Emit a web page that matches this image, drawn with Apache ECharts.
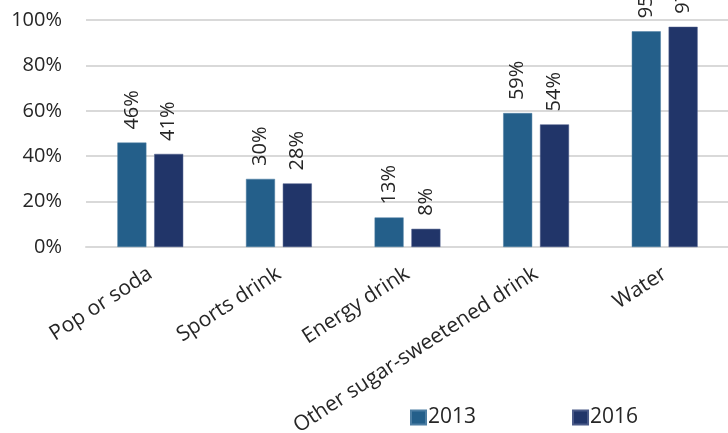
<!DOCTYPE html>
<html>
<head>
<meta charset="utf-8">
<script src="https://cdn.jsdelivr.net/npm/echarts@6/dist/echarts.min.js"></script>
<style>html,body{margin:0;padding:0;background:#fff;}#c{width:728px;height:433px;}</style>
</head>
<body>
<div id="c"></div>
<script>
const categories = ['Pop or soda', 'Sports drink', 'Energy drink', 'Other sugar-sweetened drink', 'Water'];
const values2013 = [46, 30, 13, 59, 95];
const values2016 = [41, 28, 8, 54, 97];
const seriesNames = ['2013', '2016'];
const yTicks = [0, 20, 40, 60, 80, 100];

const FONT = 'Open Sans';
const chart = echarts.init(document.getElementById('c'), null, {renderer: 'canvas'});
const labelCfg = {
  show: true, position: 'top', rotate: 90, align: 'left', verticalAlign: 'middle',
  distance: 13, color: '#262626', fontFamily: FONT, fontSize: 20,
  formatter: p => p.value + '%'
};
chart.setOption({
  animation: false,
  textStyle: {fontFamily: FONT},
  grid: {left: 86, right: -1, top: 20, bottom: 186, containLabel: false, outerBoundsMode: 'none'},
  legend: {
    data: seriesNames, bottom: 0, left: 405, itemGap: 96,
    itemWidth: 15, itemHeight: 14, icon: 'rect',
    textStyle: {fontFamily: FONT, fontSize: 21, color: '#262626', padding: [0, 0, 0, -3]}
  },
  xAxis: {
    type: 'category', data: categories,
    axisLine: {show: true, lineStyle: {color: '#d9d9d9', width: 2}},
    axisTick: {show: false},
    axisLabel: {rotate: 33, interval: 0, margin: 25, color: '#262626', fontFamily: FONT, fontSize: 21}
  },
  yAxis: {
    type: 'value', min: yTicks[0], max: yTicks[yTicks.length - 1], interval: 20,
    axisLine: {show: false}, axisTick: {show: false},
    splitLine: {lineStyle: {color: '#d9d9d9', width: 2}},
    axisLabel: {margin: 24, color: '#262626', fontFamily: FONT, fontSize: 20, formatter: v => v + '%'}
  },
  series: [
    {name: seriesNames[0], type: 'bar', data: values2013, barWidth: 29, barGap: '27%',
     itemStyle: {color: '#245f8a', borderColor: '#4d7ea3', borderWidth: 0.5}, label: labelCfg},
    {name: seriesNames[1], type: 'bar', data: values2016, barWidth: 29,
     itemStyle: {color: '#213569', borderColor: '#4a5a88', borderWidth: 0.5}, label: labelCfg}
  ]
});
</script>
</body>
</html>
